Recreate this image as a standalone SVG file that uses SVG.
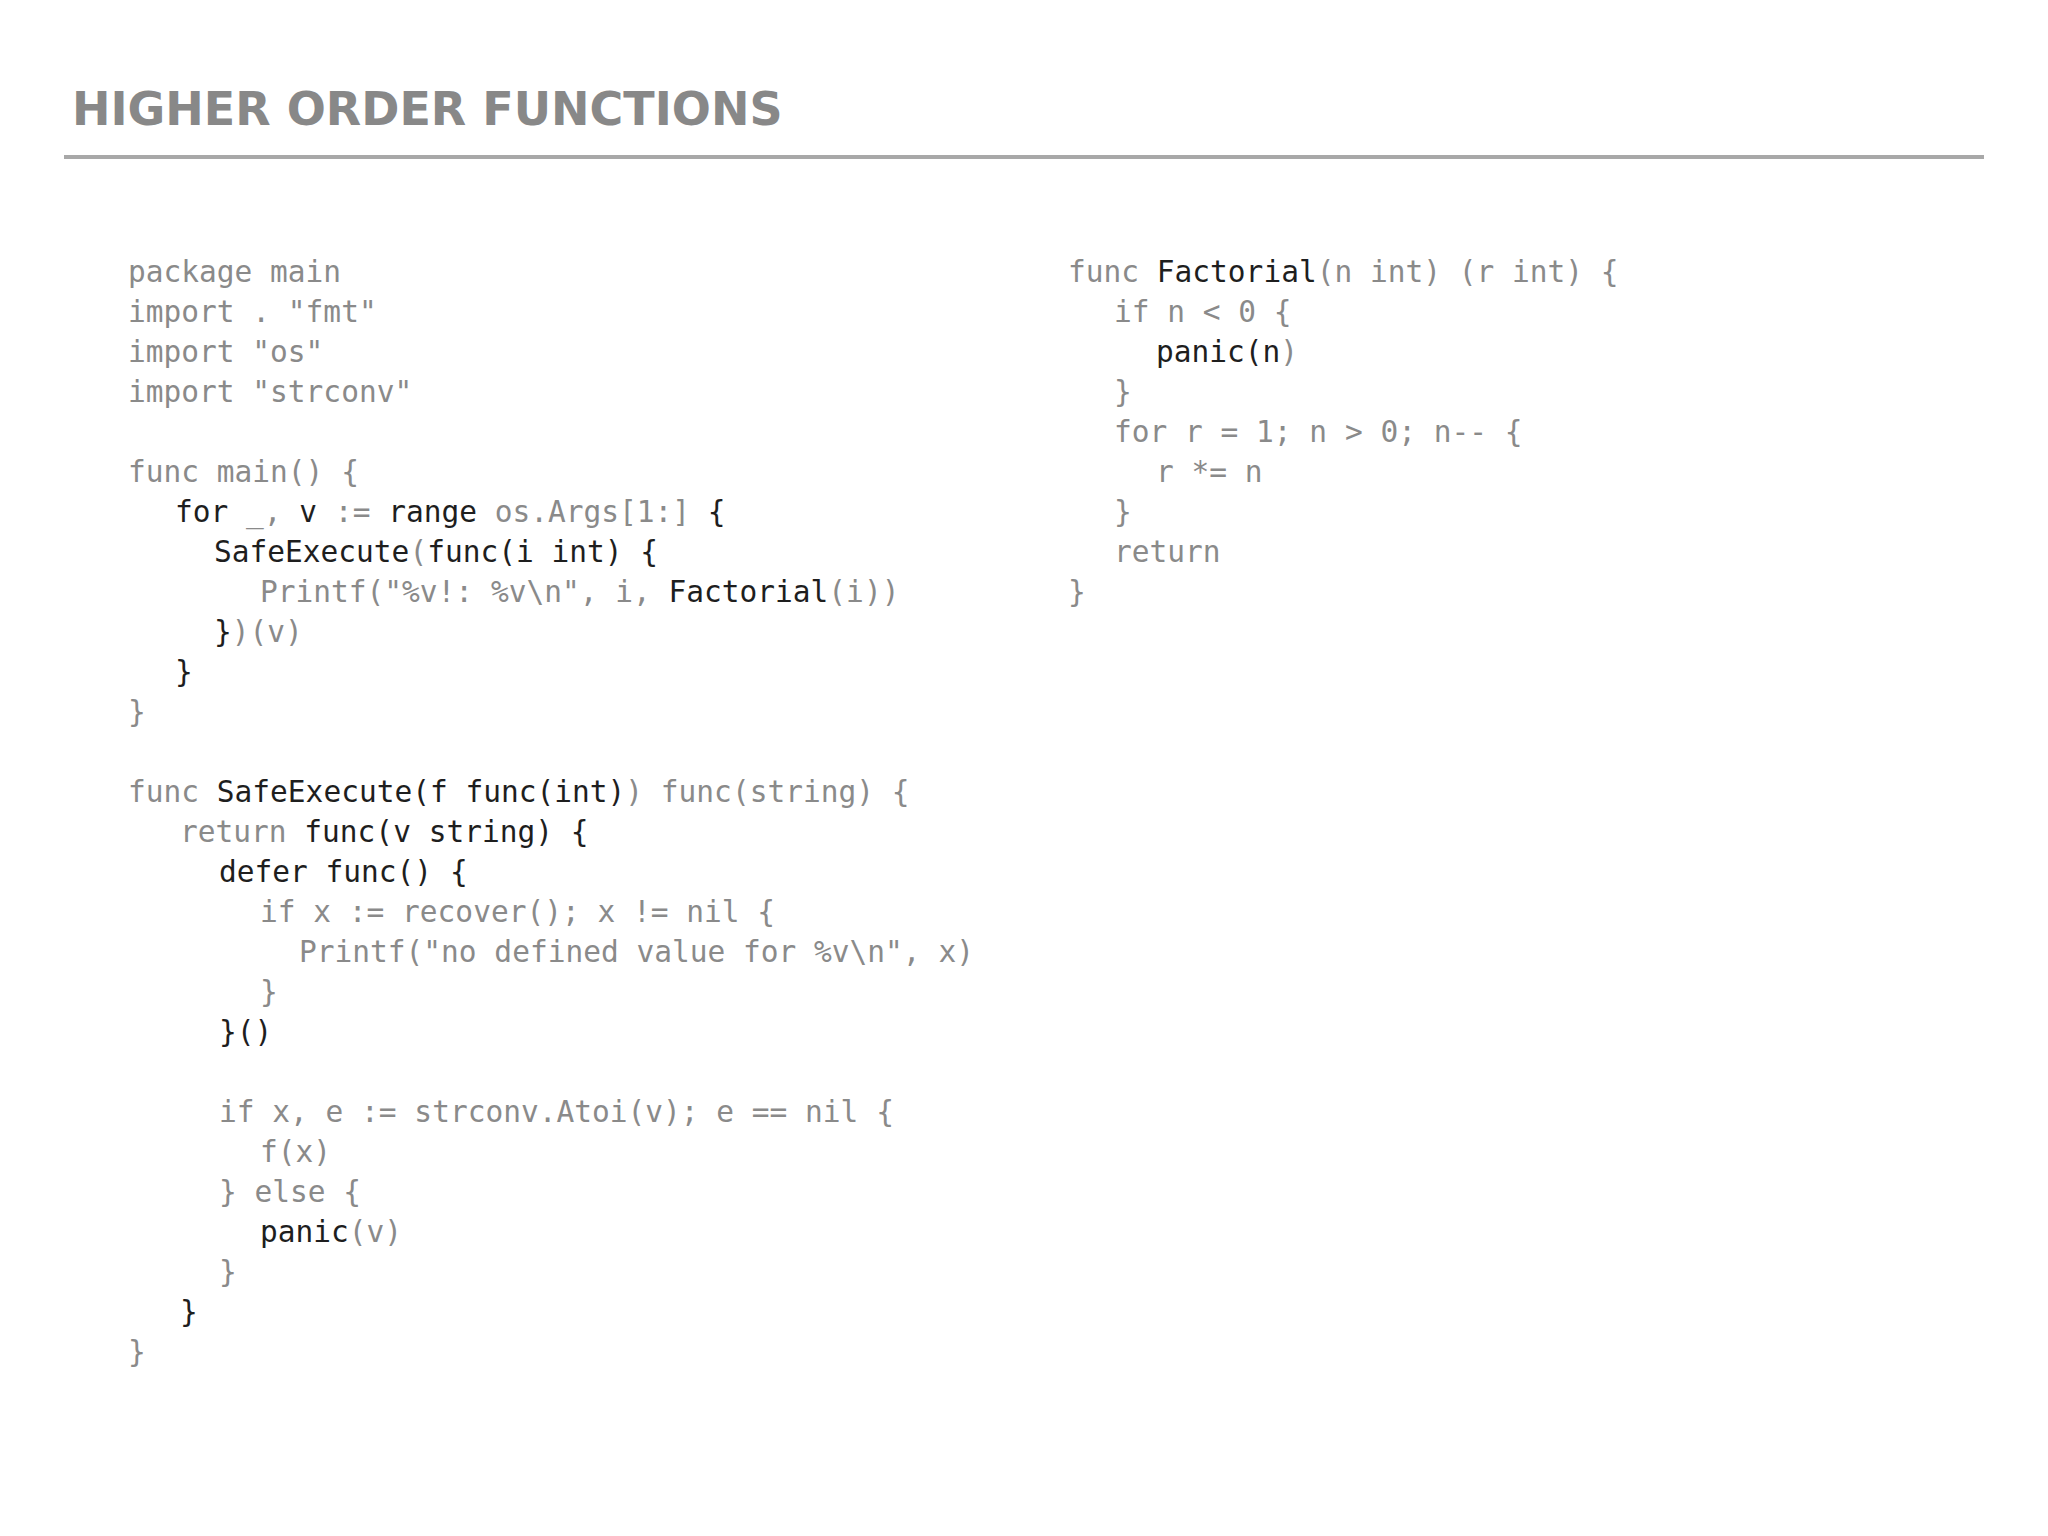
<svg xmlns="http://www.w3.org/2000/svg" width="2048" height="1536" viewBox="0 0 2048 1536">
<style>
.c{font-family:"DejaVu Sans Mono","Liberation Mono",monospace;font-size:29.5px;fill:#8a8a8a;white-space:pre}
.k{fill:#1e1e1e}
.t{font-family:"DejaVu Sans","Liberation Sans",sans-serif;font-size:46px;font-weight:bold;fill:#888}
</style>
<rect width="2048" height="1536" fill="#fff"/>
<g id="title"><text class="t" x="72" y="125">HIGHER ORDER FUNCTIONS</text>
<line x1="64" y1="157" x2="1984" y2="157" stroke="#a8a8a8" stroke-width="4"/></g>
<g id="left" class="c" xml:space="preserve">
<text class="c" x="128" y="282">package main</text>
<text class="c" x="128" y="322">import . "fmt"</text>
<text class="c" x="128" y="362">import "os"</text>
<text class="c" x="128" y="402">import "strconv"</text>
<text class="c" x="128" y="482">func main() {</text>
<text class="c" x="175" y="522"><tspan class="k">for</tspan> _, <tspan class="k">v</tspan> := <tspan class="k">range</tspan> os.Args[1:] <tspan class="k">{</tspan></text>
<text class="c" x="214" y="562"><tspan class="k">SafeExecute</tspan>(<tspan class="k">func(i int) {</tspan></text>
<text class="c" x="260" y="602">Printf("%v!: %v\n", i, <tspan class="k">Factorial</tspan>(i))</text>
<text class="c" x="214" y="642"><tspan class="k">}</tspan>)(v)</text>
<text class="c k" x="175" y="682">}</text>
<text class="c" x="128" y="722">}</text>
<text class="c" x="128" y="802">func <tspan class="k">SafeExecute(f func(int)</tspan>) func(string) {</text>
<text class="c" x="180" y="842">return <tspan class="k">func(v string) {</tspan></text>
<text class="c k" x="219" y="882">defer func() {</text>
<text class="c" x="260" y="922">if x := recover(); x != nil {</text>
<text class="c" x="299" y="962">Printf("no defined value for %v\n", x)</text>
<text class="c" x="260" y="1002">}</text>
<text class="c k" x="219" y="1042">}()</text>
<text class="c" x="219" y="1122">if x, e := strconv.Atoi(v); e == nil {</text>
<text class="c" x="260" y="1162">f(x)</text>
<text class="c" x="219" y="1202">} else {</text>
<text class="c" x="260" y="1242"><tspan class="k">panic</tspan>(v)</text>
<text class="c" x="219" y="1282">}</text>
<text class="c k" x="180" y="1322">}</text>
<text class="c" x="128" y="1362">}</text>
</g>
<g id="right" xml:space="preserve">
<text class="c" x="1068" y="282">func <tspan class="k">Factorial</tspan>(n int) (r int) {</text>
<text class="c" x="1114" y="322">if n &lt; 0 {</text>
<text class="c" x="1156" y="362"><tspan class="k">panic(n</tspan>)</text>
<text class="c" x="1114" y="402">}</text>
<text class="c" x="1114" y="442">for r = 1; n &gt; 0; n-- {</text>
<text class="c" x="1156" y="482">r *= n</text>
<text class="c" x="1114" y="522">}</text>
<text class="c" x="1114" y="562">return</text>
<text class="c" x="1068" y="602">}</text>
</g>
</svg>
